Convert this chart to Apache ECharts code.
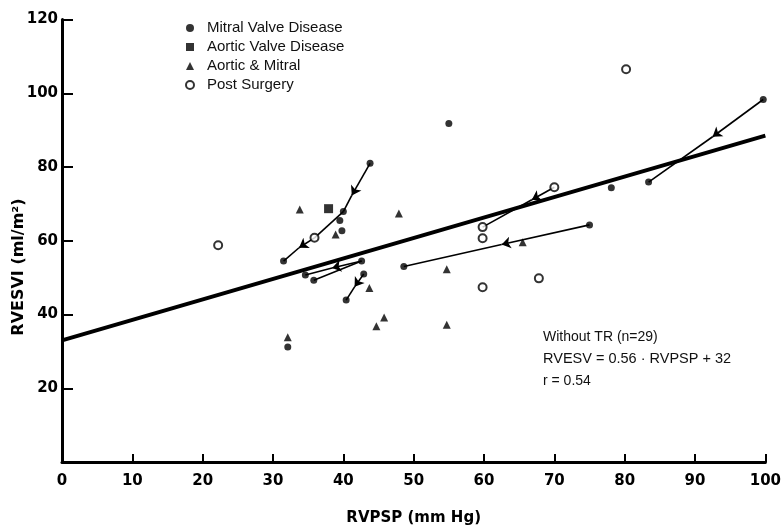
<!DOCTYPE html>
<html lang="en">
<head>
<meta charset="utf-8">
<script src="https://cdn.jsdelivr.net/npm/echarts@6/dist/echarts.min.js"></script>
<style>
    html, body { margin: 0; padding: 0; background: #fff; }
    #main { width: 784px; height: 531px; }
</style>
</head>
<body>
<div id="main"></div>
<script type="text/javascript">
    // values: [RVPSP, RVESVI]
    var mitral = [[43.8, 81], [40, 67.9], [39.5, 65.5], [39.8, 62.7], [31.5, 54.5], [42.6, 54.5],
                  [34.6, 50.7], [35.8, 49.3], [42.9, 51], [40.4, 43.9], [32.1, 31.2], [55, 91.8],
                  [99.7, 98.3], [83.4, 75.9], [78.1, 74.4], [75, 64.3], [48.6, 53]];
    var aorticValve = [[37.9, 68.7]];
    var aorticMitral = [[33.8, 68.5], [38.9, 61.7], [47.9, 67.4], [43.7, 47.2], [45.8, 39.2],
                        [44.7, 36.8], [32.1, 33.8], [54.7, 52.3], [54.7, 37.2], [65.5, 59.6]];
    var postSurgery = [[22.2, 58.8], [35.9, 60.8], [59.8, 63.7], [59.8, 60.7], [59.8, 47.4],
                       [67.8, 49.8], [70, 74.5], [80.2, 106.5]];

    // paired measurements joined by arrows: start -> arrow head -> end
    var pathStarts = [[99.7, 98.3], [70, 74.5], [75, 64.3], [43.8, 81], [35.9, 60.8], [42.6, 54.5], [42.9, 51]];
    var pathArrows = [[92.5, 88.2], [66.8, 71.1], [62.5, 59], [41.2, 72.3], [33.7, 58.1], [38.4, 52.6], [41.6, 47.5]];
    var pathEnds = [[83.4, 75.9], [59.8, 63.7], [48.6, 53], [40, 67.9], [31.5, 54.5], [34.6, 50.7], [40.4, 43.9]];
    var extraLinks = [[[40, 67.9], [35.9, 60.8]], [[42.6, 54.5], [35.8, 49.3]]];

    // regression line ends (Without TR)
    var regLine = [[0, 33], [100, 88.5]];

    var xTicks = [0, 10, 20, 30, 40, 50, 60, 70, 80, 90, 100];
    var yTicks = [20, 40, 60, 80, 100, 120];

    var headSegs = [];
    var tailSegs = [];
    for (var i = 0; i < pathStarts.length; i++) {
        headSegs.push({coords: [pathStarts[i], pathArrows[i]]});
        tailSegs.push({coords: [pathArrows[i], pathEnds[i]]});
    }
    for (var j = 0; j < extraLinks.length; j++) {
        tailSegs.push({coords: extraLinks[j]});
    }

    var font = 'Liberation Sans';
    var chart = echarts.init(document.getElementById('main'));
    chart.setOption({
        animation: false,
        backgroundColor: '#fff',
        grid: {left: 62, right: 11, top: 19.5, bottom: 61.5},
        legend: {
            orient: 'vertical',
            left: 180,
            top: 15,
            itemWidth: 8,
            itemHeight: 8,
            itemGap: 3,
            data: [
                {name: 'Mitral Valve Disease', icon: 'circle', itemStyle: {color: '#000'}},
                {name: 'Aortic Valve Disease', icon: 'rect', itemStyle: {color: '#000'}},
                {name: 'Aortic & Mitral', icon: 'triangle', itemStyle: {color: '#000'}},
                {name: 'Post Surgery', icon: 'emptyCircle'}
            ],
            textStyle: {color: '#111', fontSize: 15, fontFamily: font, padding: [0, 0, 0, 8], lineHeight: 16}
        },
        xAxis: {
            type: 'value',
            min: 0, max: 100, interval: 10,
            name: 'RVPSP (mm Hg)',
            nameLocation: 'middle',
            nameGap: 49,
            nameTextStyle: {color: '#000', fontSize: 15, fontWeight: 'bold', fontFamily: 'DejaVu Sans'},
            axisLine: {lineStyle: {color: '#000', width: 3}},
            axisTick: {inside: true, length: 8, lineStyle: {color: '#000', width: 2}},
            axisLabel: {
                color: '#000', fontSize: 15, fontWeight: 'bold', fontFamily: 'DejaVu Sans', margin: 12,
                formatter: function (v) { return xTicks.indexOf(v) >= 0 ? String(v) : ''; }
            },
            splitLine: {show: false}
        },
        yAxis: {
            type: 'value',
            min: 0, max: 120, interval: 20,
            axisLine: {lineStyle: {color: '#000', width: 3}},
            axisTick: {inside: true, length: 11, lineStyle: {color: '#000', width: 2}},
            axisLabel: {
                color: '#000', fontSize: 15, fontWeight: 'bold', fontFamily: 'DejaVu Sans', margin: 4,
                formatter: function (v) { return yTicks.indexOf(v) >= 0 ? String(v) : ''; }
            },
            splitLine: {show: false}
        },
        graphic: [
            {
                type: 'text', x: 19, y: 267, rotation: Math.PI / 2,
                style: {text: 'RVESVI (ml/m²)', fill: '#000', font: 'bold 16px "DejaVu Sans"',
                        textAlign: 'center', textVerticalAlign: 'middle'}
            },
            {
                type: 'text', x: 543, y: 337,
                style: {text: 'Without TR (n=29)', fill: '#111', font: '14px "Liberation Sans"', textVerticalAlign: 'middle'}
            },
            {
                type: 'text', x: 543, y: 359,
                style: {text: 'RVESV = 0.56 · RVPSP + 32', fill: '#111', font: '14.5px "Liberation Sans"', textVerticalAlign: 'middle'}
            },
            {
                type: 'text', x: 543, y: 381,
                style: {text: 'r = 0.54', fill: '#111', font: '14px "Liberation Sans"', textVerticalAlign: 'middle'}
            }
        ],
        series: [
            {
                name: 'regression',
                type: 'line',
                data: regLine,
                symbol: 'none',
                lineStyle: {color: '#000', width: 4},
                silent: true,
                z: 1
            },
            {
                type: 'lines',
                coordinateSystem: 'cartesian2d',
                data: headSegs,
                symbol: ['none', 'arrow'],
                symbolSize: 9,
                lineStyle: {color: '#000', width: 1.6, opacity: 1},
                silent: true,
                z: 2
            },
            {
                type: 'lines',
                coordinateSystem: 'cartesian2d',
                data: tailSegs,
                symbol: 'none',
                lineStyle: {color: '#000', width: 1.6, opacity: 1},
                silent: true,
                z: 2
            },
            {
                name: 'Mitral Valve Disease',
                type: 'scatter',
                data: mitral,
                symbol: 'circle',
                symbolSize: 7,
                itemStyle: {color: '#000'},
                z: 3
            },
            {
                name: 'Aortic Valve Disease',
                type: 'scatter',
                data: aorticValve,
                symbol: 'rect',
                symbolSize: 9,
                itemStyle: {color: '#000'},
                z: 3
            },
            {
                name: 'Aortic & Mitral',
                type: 'scatter',
                data: aorticMitral,
                symbol: 'triangle',
                symbolSize: 8,
                itemStyle: {color: '#000'},
                z: 3
            },
            {
                name: 'Post Surgery',
                type: 'scatter',
                data: postSurgery,
                symbol: 'emptyCircle',
                symbolSize: 8,
                itemStyle: {color: '#000', borderColor: '#000', borderWidth: 1.6},
                z: 4
            }
        ]
    });
</script>
</body>
</html>
